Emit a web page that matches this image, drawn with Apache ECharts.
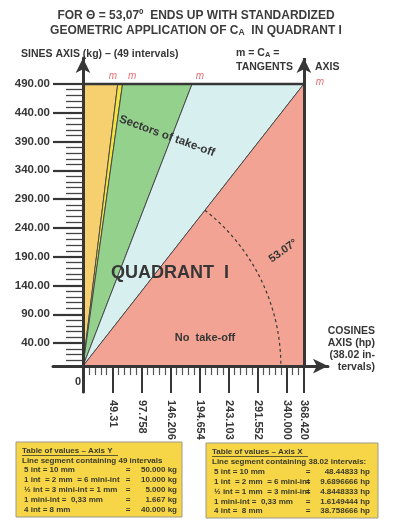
<!DOCTYPE html>
<html><head><meta charset="utf-8">
<script src="https://cdn.jsdelivr.net/npm/echarts@6/dist/echarts.min.js"></script>
<style>html,body{margin:0;padding:0;background:#fff}#c{width:400px;height:527px}</style>
</head><body><div id="c"></div>
<script>
// ---------------- data ----------------
const yTickValues = [40, 90, 140, 190, 240, 290, 340, 390, 440, 490];
const yTickLabels = ['40.00','90.00','140.00','190.00','240.00','290.00','340.00','390.00','440.00','490.00'];
const xTickValues = [49.31, 97.758, 146.206, 194.654, 243.103, 291.552, 340.000, 368.420];
const xTickLabels = ['49.31','97.758','146.206','194.654','243.103','291.552','340.000','368.420'];
const yMinorStepKg = 10;          // 1 int = 10 kg
const xMinorStepHp = 9.6896666;   // 1 int = 9.6896666 hp
const topKg = 490;
const rightHp = 368.42;
const thetaLabel = '53.07°';
// where each sector boundary ray meets the 490 kg line (hp)
const sectorEdgeHp = [0, 58, 66, 182, 368.42];
const sectorColors = ['#f6cf6f', '#f4e23e', '#93d18d', '#d8eff0', '#f2a393'];
const mMarkHp = [50, 82, 195, 368.42];
const arcRadiusHp = 330;

const tableY = [
  ['5 int = 10 mm', '50.000 kg'],
  ['1 int  = 2 mm  = 6 mini-int', '10.000 kg'],
  ['½ int = 3 mini-int = 1 mm', '5.000 kg'],
  ['1 mini-int =  0,33 mm', '1.667 kg'],
  ['4 int = 8 mm', '40.000 kg']
];
const tableX = [
  ['5 int = 10 mm', '48.44833 hp'],
  ['1 int  = 2 mm  = 6 mini-int', '9.6896666 hp'],
  ['½ int = 1 mm  = 3 mini-int', '4.8448333 hp'],
  ['1 mini-int =  0,33 mm', '1.6149444 hp'],
  ['4 int =  8 mm', '38.758666 hp']
];

// minor ticks
const yMinor = [];
for (let v = yMinorStepKg; v < topKg; v += yMinorStepKg) if (!yTickValues.includes(v)) yMinor.push(v);
const xMinor = [];
for (let k = -4; k <= 32; k++) { if (k % 5 === 0) continue; const v = xTickValues[0] + k * xMinorStepHp; if (v > 0 && v < rightHp) xMinor.push(+v.toFixed(3)); }

// sector polygons
const sectorPolys = [];
for (let i = 0; i < 4; i++) sectorPolys.push([[0,0],[sectorEdgeHp[i],topKg],[sectorEdgeHp[i+1],topKg]]);
sectorPolys.push([[0,0],[rightHp,topKg],[rightHp,0]]);

const FF = '"Liberation Sans", Arial, sans-serif';
const DARK = '#363636';

function txt(text, x, y, size, opts) {
  opts = opts || {};
  return Object.assign({
    type: 'text', x: x, y: y, rotation: opts.rotation || 0, z: 100,
    style: Object.assign({
      text: text, x: 0, y: 0,
      textAlign: opts.align || 'left', textVerticalAlign: 'middle',
      font: (opts.weight || 'bold') + ' ' + size + 'px ' + FF,
      fill: opts.color || DARK
    }, opts.style || {})
  });
}

const graphic = [];
// title
graphic.push(txt('FOR Θ = 53,07º  ENDS UP WITH STANDARDIZED', 196, 16, 12, {align:'center', color:'#3c3c3c'}));
graphic.push(txt('GEOMETRIC APPLICATION OF C{s|A}  IN QUADRANT I', 196, 31, 12, {align:'center', color:'#3c3c3c',
  style:{rich:{s:{font:'bold 8.5px ' + FF, fill:'#3c3c3c', verticalAlign:'bottom', padding:[3,0,0,0]}}}}));
graphic.push(txt('SINES AXIS (kg) – (49 intervals)', 21, 54, 10.5));
graphic.push(txt('m = C{s|A} =', 236, 53, 10.5, {style:{rich:{s:{font:'bold 7.5px ' + FF, fill:DARK, padding:[3,0,0,0]}}}}));
graphic.push(txt('TANGENTS', 236, 67, 10.5));
graphic.push(txt('AXIS', 315, 67, 10.5));
// annotations
graphic.push(txt('Sectors of take-off', 167, 136, 11.5, {align:'center', rotation: -20 * Math.PI / 180}));
graphic.push(txt('QUADRANT  I', 111, 273, 18));
graphic.push(txt(thetaLabel, 283, 251, 11, {align:'center', rotation: 35 * Math.PI / 180}));
graphic.push(txt('No  take-off', 205, 338, 11, {align:'center'}));
graphic.push(txt('COSINES', 375, 331, 10.5, {align:'right'}));
graphic.push(txt('AXIS (hp)', 375, 343, 10.5, {align:'right'}));
graphic.push(txt('(38.02 in-', 375, 355, 10.5, {align:'right'}));
graphic.push(txt('tervals)', 375, 367, 10.5, {align:'right'}));
graphic.push(txt('0', 78, 382, 11, {align:'center'}));

// tables
function table(x0, y0, w, h, title, sub, rows, eqX, valX, ulW, rowY0, rowStep) {
  graphic.push({type:'rect', z: 90, shape:{x:x0, y:y0, width:w, height:h},
    style:{fill:'#f6d646', stroke:'#9a9a8a', lineWidth:1}});
  graphic.push(txt(title, x0 + 6, y0 + 9, 8, {color:'#3a3a2a'}));
  graphic.push({type:'line', z:100, shape:{x1:x0 + 6, y1:y0 + 13.5, x2:x0 + 6 + ulW, y2:y0 + 13.5}, style:{stroke:'#3a3a2a', lineWidth:0.8}});
  graphic.push(txt(sub, x0 + 6, y0 + 19, 8, {color:'#3a3a2a'}));
  rows.forEach(function (r, i) {
    const y = rowY0 + i * rowStep;
    graphic.push(txt(r[0], x0 + 8, y, 8, {color:'#3a3a2a'}));
    graphic.push(txt('=', eqX, y, 8, {color:'#3a3a2a', align:'center'}));
    graphic.push(txt(r[1], valX, y, 8, {color:'#3a3a2a', align:'right'}));
  });
}
table(16, 442, 166, 75, 'Table of values – Axis Y', 'Line segment containing 49 intervals', tableY, 128, 177, 96, 470, 10);
table(206, 443, 172, 75, 'Table of values – Axis X', 'Line segment containing 38.02 intervals:', tableX, 308, 370, 96, 472, 9.8);

const chart = echarts.init(document.getElementById('c'), null, {renderer:'canvas'});
const X_MIN = -50, X_MAX = 408.6, Y_MIN = -45, Y_MAX = 535;

const option = {
  animation: false,
  backgroundColor: '#ffffff',
  grid: {left: 53, right: 72, top: 58, bottom: 135, containLabel: false, outerBoundsMode: 'none'},
  xAxis: [
    {type:'value', min:X_MIN, max:X_MAX, position:'bottom', z:5,
     axisLine:{show:true, onZero:true, onZeroAxisIndex:0, symbol:['none','arrow'], symbolSize:[11,15], lineStyle:{color:DARK, width:3}},
     axisTick:{show:true, customValues:[0].concat(xTickValues), length:27, lineStyle:{color:DARK, width:2}},
     axisLabel:{show:true, customValues:xTickValues, rotate:-90, margin:8, color:DARK, fontWeight:'bold', fontSize:11, fontFamily:FF,
       formatter: function (v) { const i = xTickValues.findIndex(t => Math.abs(t - v) < 1e-6); return i >= 0 ? xTickLabels[i] : ''; }},
     splitLine:{show:false}},
    {type:'value', min:X_MIN, max:X_MAX, position:'bottom', z:4,
     axisLine:{show:false, onZero:true, onZeroAxisIndex:1},
     axisTick:{show:true, customValues:xMinor, length:9, lineStyle:{color:'#555', width:1.2}},
     axisLabel:{show:false}, splitLine:{show:false}}
  ],
  yAxis: [
    {type:'value', min:Y_MIN, max:Y_MAX, position:'left', z:5,
     axisLine:{show:true, onZero:true, onZeroAxisIndex:0, symbol:['none','arrow'], symbolSize:[11,15], lineStyle:{color:DARK, width:3}},
     axisTick:{show:true, customValues:yTickValues, length:30, lineStyle:{color:DARK, width:2.2}},
     axisLabel:{show:true, customValues:yTickValues, margin:3, color:DARK, fontWeight:'bold', fontSize:11.5, fontFamily:FF,
       formatter: function (v) { const i = yTickValues.indexOf(v); return i >= 0 ? yTickLabels[i] : ''; }},
     splitLine:{show:false}},
    {type:'value', min:Y_MIN, max:Y_MAX, position:'left', z:4,
     axisLine:{show:false, onZero:true, onZeroAxisIndex:1},
     axisTick:{show:true, customValues:yMinor, length:17, lineStyle:{color:'#444', width:1.3}},
     axisLabel:{show:false}, splitLine:{show:false}}
  ],
  series: [
    {type:'custom', name:'sectors', xAxisIndex:0, yAxisIndex:0, z:1, silent:true,
     data: sectorPolys.map(p => p[1]),
     renderItem: function (params, api) {
       const i = params.dataIndex;
       const pts = sectorPolys[i].map(p => api.coord(p));
       return {type:'polygon', shape:{points:pts}, style:{fill:sectorColors[i], stroke:'#4a4a4a', lineWidth:1}};
     }},
    {type:'custom', name:'arc', xAxisIndex:0, yAxisIndex:0, z:3, silent:true,
     data:[[0,0]],
     renderItem: function (params, api) {
       const o = api.coord([0,0]);
       const r = api.coord([arcRadiusHp,0])[0] - o[0];
       const t = api.coord([rightHp, topKg]);
       const ang = Math.atan2(t[1] - o[1], t[0] - o[0]);
       return {type:'arc', shape:{cx:o[0], cy:o[1], r:r, startAngle:ang, endAngle:0, clockwise:true},
         style:{stroke:'#3a3a3a', lineWidth:1.2, lineDash:[3,3], fill:'none'}};
     }},
    {type:'line', name:'top', xAxisIndex:0, yAxisIndex:0, z:4, silent:true, symbol:'none',
     data:[[0,topKg],[rightHp,topKg]], lineStyle:{color:DARK, width:2.5},
     markLine:{silent:true, animation:false, label:{show:false}, symbol:['none','arrow'], symbolSize:[11,15],
       lineStyle:{color:DARK, width:3, type:'solid'},
       data:[[{coord:[rightHp,0]},{coord:[rightHp,Y_MAX]}]]}},
    {type:'scatter', name:'m', xAxisIndex:0, yAxisIndex:0, z:6, silent:true, symbolSize:1,
     itemStyle:{color:'rgba(0,0,0,0)'},
     data: mMarkHp.map(function (x, i) {
       const last = i === mMarkHp.length - 1;
       return {value:[x, topKg], label:{show:true, position:'inside', offset: last ? [16,-2] : [0,-8]}};
     }),
     label:{show:true, formatter:'m', color:'#e24a4f', fontStyle:'italic', fontSize:10, fontFamily:FF}}
  ],
  graphic: graphic
};
chart.setOption(option);
</script>
</body></html>
